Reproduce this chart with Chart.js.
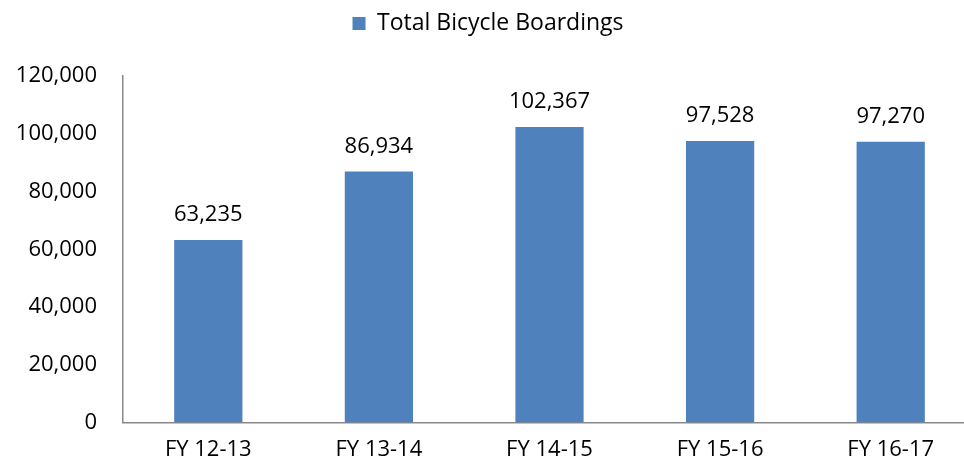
<!DOCTYPE html>
<html>
<head>
<meta charset="utf-8">
<script src="https://cdn.jsdelivr.net/npm/chart.js@4"></script>
<style>
  html, body { margin: 0; padding: 0; background: #fff; overflow: hidden; }
  #wrap { width: 976px; height: 468px; }
</style>
</head>
<body>
<div id="wrap"><canvas id="chart"></canvas></div>
<script>
const categories = ['FY 12-13', 'FY 13-14', 'FY 14-15', 'FY 15-16', 'FY 16-17'];
const boardings = [63235, 86934, 102367, 97528, 97270];
const seriesName = 'Total Bicycle Boardings';

const fontFamily = '"Open Sans", "Noto Sans", sans-serif';

// labels above each bar
const valueLabels = {
    id: 'valueLabels',
    afterDatasetsDraw(chart) {
        const ctx = chart.ctx;
        const meta = chart.getDatasetMeta(0);
        ctx.save();
        ctx.font = '22px ' + fontFamily;
        ctx.fillStyle = '#000';
        ctx.textAlign = 'center';
        ctx.textBaseline = 'bottom';
        meta.data.forEach((bar, i) => {
            ctx.fillText(boardings[i].toLocaleString('en-US'), bar.x, bar.y - 14);
        });
        ctx.restore();
    }
};

// leave more room between legend and plot
const legendGap = {
    id: 'legendGap',
    beforeInit(chart) {
        const fit = chart.legend.fit;
        chart.legend.fit = function () {
            fit.call(this);
            this.height += 31;
        };
    }
};

new Chart(document.getElementById('chart'), {
    type: 'bar',
    data: {
        labels: categories,
        datasets: [{
            label: seriesName,
            data: boardings,
            backgroundColor: '#4F81BD',
            categoryPercentage: 1,
            barPercentage: 0.4
        }]
    },
    options: {
        responsive: true,
        maintainAspectRatio: false,
        animation: false,
        layout: { padding: { top: 2, right: 0, bottom: -9, left: 0 } },
        plugins: {
            legend: {
                position: 'top',
                labels: {
                    font: { family: fontFamily, size: 23 },
                    color: '#000',
                    boxWidth: 13,
                    boxHeight: 13,
                    padding: 10
                }
            },
            tooltip: { enabled: false }
        },
        scales: {
            x: {
                grid: { display: false, drawTicks: false },
                border: { color: '#898989', width: 1.5 },
                ticks: {
                    font: { family: fontFamily, size: 22 },
                    color: '#000',
                    padding: 14,
                    maxRotation: 0
                }
            },
            y: {
                min: 0,
                max: 120000,
                afterFit(scale) { scale.width = 123; },
                grid: { display: false, drawTicks: false },
                border: { color: '#898989', width: 1.5 },
                ticks: {
                    stepSize: 20000,
                    font: { family: fontFamily, size: 22 },
                    color: '#000',
                    padding: 26,
                    callback: v => v.toLocaleString('en-US')
                }
            }
        }
    },
    plugins: [valueLabels, legendGap]
});
</script>
</body>
</html>
